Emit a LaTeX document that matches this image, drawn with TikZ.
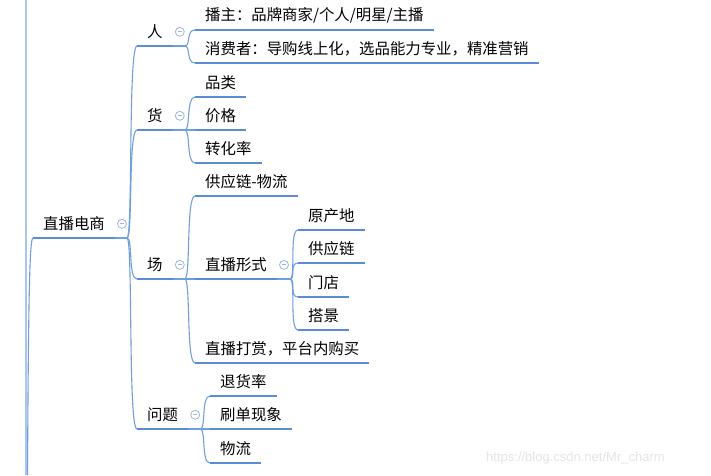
\documentclass[tikz,border=0pt]{standalone}
\usepackage{fontspec}
\newfontfamily\cjk{Noto Sans CJK SC}
\newfontfamily\wmfont{Liberation Sans}
\definecolor{ulc}{HTML}{5B8DD6}
\definecolor{cnc}{HTML}{6F9FDE}
\definecolor{fdc}{HTML}{9DB6DA}
\definecolor{edgec}{HTML}{A9C6EC}
\tikzset{
  topic/.style={anchor=south west, inner xsep=10pt, inner ysep=0pt, minimum height=28pt,
    font=\cjk\fontsize{15.4}{17}\selectfont, text=black},
  uline/.style={line width=2.8pt, color=ulc},
  conn/.style={line width=1.1pt, color=cnc},
  fold/.style={circle, draw=fdc, line width=0.8pt, minimum size=9pt, inner sep=0pt,
    path picture={\draw[fdc, line width=0.8pt] ([xshift=-2.2pt]path picture bounding box.center) -- ([xshift=2.2pt]path picture bounding box.center);}},
}
\newcommand{\ul}[1]{\draw[uline] (#1.south west) -- (#1.south east);}
\newcommand{\br}[2]{\draw[conn] (#1) .. controls +(6,0) and +(-9,0) .. (#2.south west);}
\newcommand{\stem}[2]{\draw[conn] (#1.south east) -- ++(12,0) coordinate (#2);}
\begin{document}
\begin{tikzpicture}[x=1pt,y=-1pt]
\useasboundingbox (0,0) rectangle (711,475);
\fill[white] (0,0) rectangle (711,475);

% left edge lines
\coordinate (topL) at (26,0);
\coordinate (botL) at (26,475);
\draw[edgec, line width=1.2pt] (topL) -- (botL);

% nodes
\node[topic] (root) at (33,238) {直播电商};
\node[topic] (ren) at (137,46) {人};
\node[topic] (huo) at (137,130) {货};
\node[topic] (chang) at (137,279) {场};
\node[topic] (wenti) at (137,429) {问题};

\node[topic] (bozhu) at (195,30) {播主：品牌商家/个人/明星/主播};
\node[topic] (xfz) at (195,63) {消费者：导购线上化，选品能力专业，精准营销};

\node[topic] (pinlei) at (195,97) {品类};
\node[topic] (jiage) at (195,130) {价格};
\node[topic] (zhl) at (195,163) {转化率};

\node[topic] (gyl) at (195,196) {供应链-物流};
\node[topic] (zbxs) at (195,279) {直播形式};
\node[topic] (zbds) at (195,363) {直播打赏，平台内购买};

\node[topic] (ycd) at (298,230) {原产地};
\node[topic] (gyl2) at (298,263) {供应链};
\node[topic] (md) at (298,297) {门店};
\node[topic] (dj) at (298,330) {搭景};

\node[topic] (thl) at (210,396) {退货率};
\node[topic] (sdxx) at (210,429) {刷单现象};
\node[topic] (wl) at (210,463) {物流};

% connector into root from the left
\coordinate (rootin) at (27.5,475);
\draw[conn] (rootin) .. controls (28.5,300) and (29.5,238) .. (root.south west);

% stems and branches
\stem{root}{bRoot}
\br{bRoot}{ren} \br{bRoot}{huo} \br{bRoot}{chang} \br{bRoot}{wenti}

\stem{ren}{bRen}
\br{bRen}{bozhu} \br{bRen}{xfz}

\stem{huo}{bHuo}
\br{bHuo}{pinlei} \br{bHuo}{jiage} \br{bHuo}{zhl}

\stem{chang}{bChang}
\br{bChang}{gyl} \br{bChang}{zbxs} \br{bChang}{zbds}

\draw[conn] (zbxs.south east) -- ++(13,0) coordinate (bZbxs);
\br{bZbxs}{ycd} \br{bZbxs}{gyl2} \br{bZbxs}{md} \br{bZbxs}{dj}

\stem{wenti}{bWenti}
\br{bWenti}{thl} \br{bWenti}{sdxx} \br{bWenti}{wl}

% underlines
\foreach \n in {root,ren,huo,chang,wenti,bozhu,xfz,pinlei,jiage,zhl,gyl,zbxs,zbds,ycd,gyl2,md,dj,thl,sdxx,wl}{\ul{\n}}

% fold markers
\node[fold] (fRoot) at ([xshift=7pt]root.east) {};
\node[fold] (fRen) at ([xshift=7pt]ren.east) {};
\node[fold] (fHuo) at ([xshift=7pt]huo.east) {};
\node[fold] (fChang) at ([xshift=7pt]chang.east) {};
\node[fold] (fWenti) at ([xshift=7pt]wenti.east) {};
\node[fold] (fZbxs) at ([xshift=7pt]zbxs.east) {};

% watermark
\node[anchor=west, font=\wmfont\fontsize{13}{15}\selectfont, text=black!10, inner sep=0pt] (wm) at (486,458) {https://blog.csdn.net/Mr\_charm};
\end{tikzpicture}
\end{document}
